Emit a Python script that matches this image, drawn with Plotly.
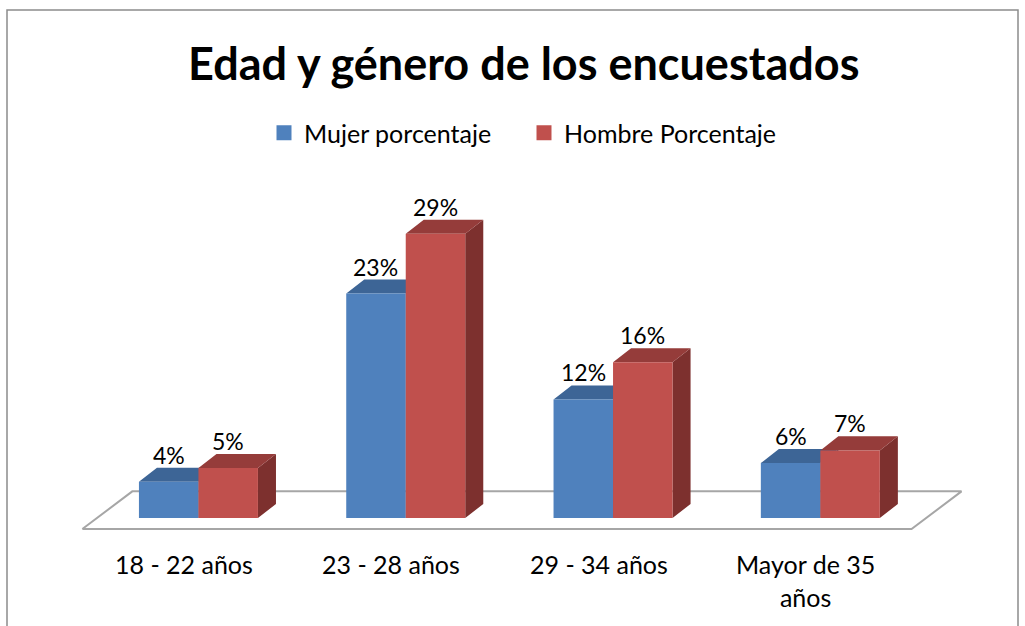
import plotly.graph_objects as go

# ---------------- data ----------------
categories = ["18 - 22 años", "23 - 28 años", "29 - 34 años", "Mayor de 35<br>años"]
mujer = [3.7, 22.9, 12.1, 5.6]      # values (%)
hombre = [5.1, 29.0, 15.9, 6.9]
mujer_labels = ["4%", "23%", "12%", "6%"]
hombre_labels = ["5%", "29%", "16%", "7%"]
series_names = ["Mujer porcentaje", "Hombre Porcentaje"]

# ---------------- style / geometry ----------------
FONT = "Lato"
BLUE_FRONT, BLUE_TOP, BLUE_SIDE = "#4F81BD", "#3D6596", "#385D8A"
RED_FRONT, RED_TOP, RED_SIDE = "#C0504D", "#953C3A", "#7D302E"
BAR_W = 0.287          # width of one bar front (category units)
FIRST_OFF = -0.227     # left edge of first bar relative to category position
DX, DY = 0.087, 1.43   # 3-D depth offset (x units, y units)
FLOOR_Y = -1.13
FLOOR_DX, FLOOR_DY = 0.241, 3.85

PX_CAT, PX_PCT = 207.3, 9.8
X0_PX, Y0_PX = 186, 518
W, H = 1025, 626
xr = [(0 - X0_PX) / PX_CAT, (W - X0_PX) / PX_CAT]
yr = [(Y0_PX - H) / PX_PCT, Y0_PX / PX_PCT]

n = len(categories)
xs = list(range(n))


def polys(list_of_pts):
    px, py = [], []
    for pts in list_of_pts:
        for (a, b) in pts:
            px.append(a)
            py.append(b)
        px.append(pts[0][0]); py.append(pts[0][1])
        px.append(None); py.append(None)
    return px, py


def faces(values, off):
    fronts, tops, sides = [], [], []
    for x, v in zip(xs, values):
        a, b = x + off, x + off + BAR_W
        fronts.append([(a, 0), (b, 0), (b, v), (a, v)])
        tops.append([(a, v), (b, v), (b + DX, v + DY), (a + DX, v + DY)])
        sides.append([(b, 0), (b + DX, DY), (b + DX, v + DY), (b, v)])
    return fronts, tops, sides


fig = go.Figure()

# floor
fl = [(-0.5, FLOOR_Y), (n - 0.5, FLOOR_Y),
      (n - 0.5 + FLOOR_DX, FLOOR_Y + FLOOR_DY), (-0.5 + FLOOR_DX, FLOOR_Y + FLOOR_DY)]
fx, fy = polys([fl])
fig.add_trace(go.Scatter(x=fx, y=fy, mode="lines", fill="toself", fillcolor="white",
                         line=dict(color="#A6A6A6", width=2), showlegend=False,
                         hoverinfo="skip"))


def add_faces(pts, color, **kw):
    px, py = polys(pts)
    fig.add_trace(go.Scatter(x=px, y=py, mode="lines", fill="toself", fillcolor=color,
                             line=dict(width=0, color=color), hoverinfo="skip",
                             showlegend=False, **kw))


bf, bt, bs = faces(mujer, FIRST_OFF)
rf, rt, rs = faces(hombre, FIRST_OFF + BAR_W)
add_faces(bs, BLUE_SIDE)
add_faces(bt, BLUE_TOP)
add_faces(bf, BLUE_FRONT)
add_faces(rs, RED_SIDE)
add_faces(rt, RED_TOP)
add_faces(rf, RED_FRONT)

# legend entries
for name, col in zip(series_names, [BLUE_FRONT, RED_FRONT]):
    fig.add_trace(go.Scatter(x=[None], y=[None], name=name, mode="markers",
                             marker=dict(symbol="square", size=15, color=col)))

annotations = []
for vals, labs, off in [(mujer, mujer_labels, FIRST_OFF), (hombre, hombre_labels, FIRST_OFF + BAR_W)]:
    for x, v, t in zip(xs, vals, labs):
        annotations.append(dict(x=x + off + BAR_W / 2, y=v + DY, xref="x", yref="y",
                                text=t, showarrow=False, yanchor="middle", yshift=13,
                                font=dict(family=FONT, size=23, color="black")))
for x, c in zip(xs, categories):
    annotations.append(dict(x=x - 0.01, y=1 - 547 / H, xref="x", yref="paper", text=c,
                            showarrow=False, yanchor="top",
                            font=dict(family=FONT, size=25, color="black")))

fig.update_layout(
    width=W, height=H,
    margin=dict(l=0, r=0, t=0, b=0),
    paper_bgcolor="white", plot_bgcolor="white",
    title=dict(text="<b>Edad y género de los encuestados</b>", x=0.511, xanchor="center",
               y=1 - 64 / H, yanchor="middle",
               font=dict(family=FONT, size=45, color="black")),
    legend=dict(orientation="h", x=264 / W, xanchor="left", y=1 - 133 / H, yanchor="middle",
                entrywidth=215, entrywidthmode="pixels",
                font=dict(family=FONT, size=25, color="black"), bgcolor="rgba(0,0,0,0)"),
    xaxis=dict(range=xr, visible=False, fixedrange=True),
    yaxis=dict(range=yr, visible=False, fixedrange=True),
    annotations=annotations,
    shapes=[dict(type="rect", xref="paper", yref="paper", x0=7 / W, x1=1018 / W,
                 y0=-0.1, y1=1 - 10 / H, line=dict(color="#8C8C8C", width=1.5),
                 fillcolor="rgba(0,0,0,0)")],
    showlegend=True,
)

fig.write_html("out.html", config={"displayModeBar": False},
               post_script="document.body.style.margin='0';document.body.style.overflow='hidden';")
